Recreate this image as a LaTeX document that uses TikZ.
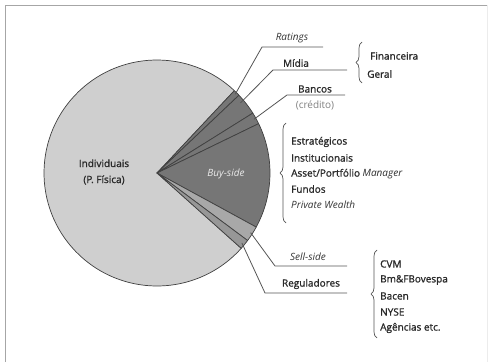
\documentclass[tikz,border=0pt]{standalone}
\usepackage{fontspec}
\setmainfont{Open Sans}
\newfontfamily\semib{Open Sans}[FakeBold=1.3]
\usetikzlibrary{decorations.pathreplacing,calc}
\definecolor{light}{HTML}{CFCFCF}
\definecolor{dark}{HTML}{767676}
\definecolor{mid}{HTML}{A8A8A8}
\definecolor{midd}{HTML}{979797}
\definecolor{txt}{HTML}{2A2A2A}
\definecolor{lead}{HTML}{555555}
\tikzset{
  slice/.style={draw=black!75, line width=0.7pt, line join=round},
  leader/.style={draw=lead, line width=0.8pt},
  lbl/.style={font=\fontsize{10}{12}\selectfont\semib, text=txt, inner sep=1pt},
  itl/.style={lbl, font=\fontsize{10}{12}\selectfont\itshape, text=black!80},
  item/.style={lbl, anchor=west},
  bracestyle/.style={draw=lead, line width=0.7pt, decorate, decoration={brace, amplitude=6pt}},
}
\begin{document}
\begin{tikzpicture}[x=1pt,y=1pt]
\useasboundingbox (0,0) rectangle (493,362);
% frame
\draw[gray!70, line width=1.5pt] (5.5,0) -- (5.5,356.5) -- (487,356.5);
\draw[gray!15, line width=0.8pt] (487,356.5) -- (487,0);
\coordinate (c) at (157,189);
\def\R{113}
% slices
\draw[slice, fill=light] (c) -- ++(46.8:\R) arc[start angle=46.8, end angle=318.2, radius=\R] -- cycle;
\draw[slice, fill=dark] (c) -- ++(43.5:\R) arc[start angle=43.5, end angle=46.8, radius=\R] -- cycle;
\draw[slice, fill=dark] (c) -- ++(32:\R) arc[start angle=32, end angle=43.5, radius=\R] -- cycle;
\draw[slice, fill=dark] (c) -- ++(25.9:\R) arc[start angle=25.9, end angle=32, radius=\R] -- cycle;
\draw[slice, fill=dark] (c) -- ++(-28.6:\R) arc[start angle=-28.6, end angle=25.9, radius=\R] -- cycle;
\draw[slice, fill=mid] (c) -- ++(-36.7:\R) arc[start angle=-36.7, end angle=-28.6, radius=\R] -- cycle;
\draw[slice, fill=midd] (c) -- ++(-41.8:\R) arc[start angle=-41.8, end angle=-36.7, radius=\R] -- cycle;
% leader start points on the pie
\coordinate (sRat) at ($(c)+(45.2:\R-2)$);
\coordinate (sMid) at ($(c)+(40:\R-4)$);
\coordinate (sBan) at ($(c)+(29:\R-2)$);
\coordinate (sSel) at ($(c)+(-32.5:\R-2)$);
\coordinate (sReg) at ($(c)+(-39.5:\R-3)$);
% labels
\node[itl] (rat) at (292,324) {Ratings};
\node[lbl] (mid) at (296,299) {Mídia};
\node[lbl] (ban) at (315,273) {Bancos};
\node[lbl, font=\fontsize{10}{12}\selectfont, text=gray] (cred) at (315,257) {(crédito)};
\node[itl] (sel) at (308,105) {Sell-side};
\node[lbl] (reg) at (311,78) {Reguladores};
\node[lbl, align=center, font=\fontsize{10}{16}\selectfont\semib] (ind) at (104,190) {Individuais\\(P. Física)};
\node[itl, text=white!92!black] (buy) at (226,188) {Buy-side};
% leader bends and ends
\coordinate (bRat) at (262,315); \coordinate (eRat) at (323,315);
\coordinate (bMid) at (273,292); \coordinate (eMid) at (347,292);
\coordinate (bBan) at (287,267); \coordinate (eBan) at (345,267);
\coordinate (bSel) at (275,96);  \coordinate (eSel) at (347,96);
\coordinate (bReg) at (265,69);  \coordinate (eReg) at (347,69);
\draw[leader] (sRat) -- (bRat) -- (eRat);
\draw[leader] (sMid) -- (bMid) -- (eMid);
\draw[leader] (sBan) -- (bBan) -- (eBan);
\draw[leader] (sSel) -- (bSel) -- (eSel);
\draw[leader] (sReg) -- (bReg) -- (eReg);
% braces
\coordinate (m1a) at (362,279); \coordinate (m1b) at (362,320);
\draw[bracestyle] (m1a) -- (m1b);
\node[item] (fin) at (369,306) {Financeira};
\node[item] (ger) at (366,288) {Geral};
\coordinate (b2a) at (286,139); \coordinate (b2b) at (286,239);
\draw[bracestyle] (b2a) -- (b2b);
\node[item] (e1) at (290,220) {Estratégicos};
\node[item] (e2) at (290,204) {Institucionais};
\node[item] (e3) at (290,188) {Asset/Portfólio {\normalfont\itshape Manager}};
\node[item] (e4) at (290,173) {Fundos};
\node[item, font=\fontsize{10}{12}\selectfont\itshape, text=black!80] (e5) at (290,157) {Private Wealth};
\coordinate (b3a) at (377,24); \coordinate (b3b) at (377,112);
\draw[bracestyle] (b3a) -- (b3b);
\node[item] (r1) at (379,98) {CVM};
\node[item] (r2) at (379,82) {Bm\&FBovespa};
\node[item] (r3) at (379,66) {Bacen};
\node[item] (r4) at (379,50) {NYSE};
\node[item] (r5) at (379,34) {Agências etc.};
\end{tikzpicture}
\end{document}
